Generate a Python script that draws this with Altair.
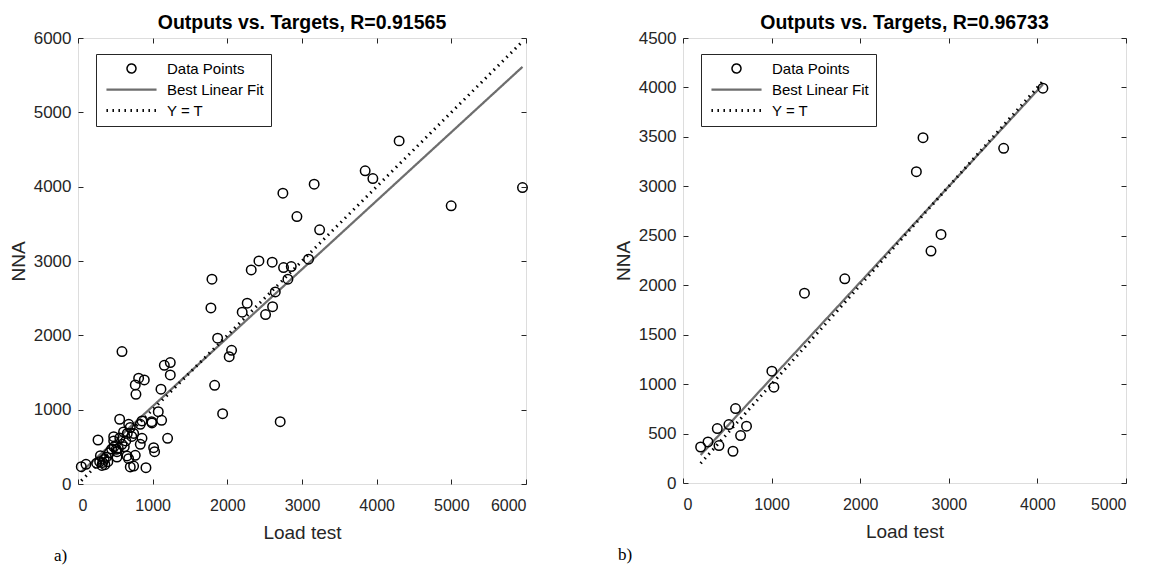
import altair as alt
import pandas as pd

# ---------------- data ----------------
a_target = [4301, 3846, 3949, 3163, 2932, 3236, 3088, 4998, 5953, 2744,
            2423, 2601, 2320, 2753, 2856, 2811, 1794, 2642, 2266, 2199,
            2606, 2512, 1780, 1870, 2057, 2025, 589, 1156, 1236, 1236,
            888, 812, 767, 776, 1111, 1830, 1937, 2708, 1075, 986,
            1120, 1200, 990, 558, 268, 478, 679, 834, 857, 745,
            857, 834, 1013, 1026, 767, 656, 678, 700, 745, 910,
            522, 513, 522, 589, 478, 44, 107, 250, 290, 320,
            350, 380, 300, 420, 450, 400, 560, 610, 640, 700,
            720, 540, 330, 360, 480, 620, 660]
a_output = [4616, 4213, 4109, 4034, 3598, 3419, 3024, 3742, 3988, 3912,
            3001, 2984, 2880, 2911, 2925, 2755, 2755, 2584, 2432, 2311,
            2386, 2279, 2369, 1961, 1799, 1713, 1781, 1597, 1633, 1467,
            1400, 1423, 1332, 1207, 1275, 1328, 946, 838, 973, 838,
            857, 615, 821, 871, 592, 637, 803, 803, 848, 680,
            615, 534, 489, 435, 386, 377, 341, 229, 242, 219,
            363, 467, 435, 534, 579, 233, 265, 280, 300, 250,
            330, 360, 380, 420, 470, 300, 620, 700, 580, 760,
            640, 480, 290, 260, 500, 500, 680]
a_fit = [0.922, 123]          # slope, intercept of best linear fit

b_target = [199, 282, 387, 406, 518, 564, 593, 650, 717, 1003,
            1026, 1371, 1826, 2634, 2709, 2799, 2912, 3619, 4062]
b_output = [364, 415, 551, 379, 591, 321, 753, 480, 574, 1131,
            969, 1920, 2065, 3148, 3492, 2345, 2514, 3385, 3992]
b_fit = [0.97, 90]

series_names = ["Data Points", "Best Linear Fit", "Y = T"]
a_xticks = [0, 1000, 2000, 3000, 4000, 5000, 6000]
a_yticks = [0, 1000, 2000, 3000, 4000, 5000, 6000]
b_xticks = [0, 1000, 2000, 3000, 4000, 5000]
b_yticks = [0, 500, 1000, 1500, 2000, 2500, 3000, 3500, 4000, 4500]
titles = ["Outputs vs. Targets, R=0.91565", "Outputs vs. Targets, R=0.96733"]
panel_tags = ["a)", "b)"]
x_title = "Load test"
y_title = "NNA"

FONT = "Liberation Sans"
AX = "#262626"
CHANNELS = ["stroke", "shape", "strokeDash", "strokeWidth"]


def make_panel(target, output, fit, xticks, yticks, title, tag, tag_dx, w, h):
    pts = pd.DataFrame({"T": target, "O": output, "series": series_names[0]})
    t0, t1 = min(target), max(target)
    lines = pd.DataFrame({
        "T": [t0, t1, t0, t1],
        "O": [fit[0] * t0 + fit[1], fit[0] * t1 + fit[1], t0, t1],
        "series": [series_names[1]] * 2 + [series_names[2]] * 2,
    })
    xs = alt.Scale(domain=[xticks[0], xticks[-1]], nice=False, zero=False)
    ys = alt.Scale(domain=[yticks[0], yticks[-1]], nice=False, zero=False)

    legend = alt.Legend(title=None, orient="none", legendX=18, legendY=16,
                        strokeColor=AX, fillColor="white", padding=7,
                        labelFont=FONT, labelFontSize=15, labelColor="black",
                        symbolSize=80, symbolOffset=21, labelOffset=28,
                        rowPadding=5, cornerRadius=0)
    stroke = alt.Stroke("series:N", legend=legend,
                        scale=alt.Scale(domain=series_names,
                                        range=["black", "#6e6e6e", "black"]))
    shape = alt.Shape("series:N", legend=legend,
                      scale=alt.Scale(domain=series_names,
                                      range=["circle", "M-5.6,0H5.6", "M-5.6,0H5.6"]))
    dash = alt.StrokeDash("series:N", legend=legend,
                          scale=alt.Scale(domain=series_names,
                                          range=[[1, 0], [1, 0], [1.5, 4.5]]))
    sw = alt.StrokeWidth("series:N", legend=legend,
                         scale=alt.Scale(domain=series_names,
                                         range=[1.5, 3, 1.5]))

    tick_style = dict(tickColor=AX, domain=False, grid=False, offset=-5, tickSize=5)
    text_style = dict(labelColor=AX, titleColor=AX, labelFont=FONT,
                      titleFont=FONT, titleFontWeight="normal")
    bottom_axis = alt.Axis(values=xticks, format="d", title=x_title,
                           orient="bottom", labelPadding=13, titlePadding=10,
                           labelFontSize=16, titleFontSize=19,
                           **tick_style, **text_style)
    left_axis = alt.Axis(values=yticks, format="d", title=y_title,
                         orient="left", labelPadding=7, titlePadding=5,
                         labelFontSize=17, titleFontSize=19,
                         **tick_style, **text_style)
    top_axis = alt.Axis(values=xticks, orient="top", labels=False, title=None,
                        **tick_style)
    right_axis = alt.Axis(values=yticks, orient="right", labels=False, title=None,
                          **tick_style)

    points = alt.Chart(pts).mark_point(filled=False, size=90, opacity=1).encode(
        x=alt.X("T:Q", scale=xs, axis=bottom_axis),
        y=alt.Y("O:Q", scale=ys, axis=left_axis),
        stroke=stroke, shape=shape, strokeWidth=sw,
    )
    fitlines = alt.Chart(lines).mark_line().encode(
        x=alt.X("T:Q", scale=xs, axis=None),
        y=alt.Y("O:Q", scale=ys, axis=None),
        stroke=stroke, strokeDash=dash, strokeWidth=sw,
    )
    frame = alt.Chart(lines).mark_line(opacity=0).encode(
        x=alt.X("T:Q", scale=xs, axis=top_axis),
        y=alt.Y("O:Q", scale=ys, axis=right_axis),
    )
    tag_text = alt.Chart(alt.Data(values=[{"t": tag}])).mark_text(
        font="Liberation Serif", fontSize=17, align="left", baseline="middle",
        color="black").encode(text="t:N", x=alt.value(tag_dx), y=alt.value(h + 72))

    return alt.layer(fitlines, points, frame, tag_text).resolve_axis(
        x="independent", y="independent").properties(
        width=w, height=h,
        title=alt.TitleParams(text=title, font=FONT, fontSize=19.5,
                              fontWeight="bold", color="black", offset=-4,
                              anchor="middle"))


pa = make_panel(a_target, a_output, a_fit, a_xticks, a_yticks, titles[0],
                panel_tags[0], -24, 448, 446)
pb = make_panel(b_target, b_output, b_fit, b_xticks, b_yticks, titles[1],
                panel_tags[1], -65, 443, 445)

chart = alt.hconcat(pa, pb, spacing=82).resolve_scale(
    **{c: "independent" for c in CHANNELS}
).resolve_legend(
    **{c: "independent" for c in CHANNELS}
).properties(
    padding={"left": 0, "top": 4, "right": 5, "bottom": 5}
).configure_view(stroke=AX, strokeWidth=1).configure(font=FONT)

chart.save("out.html", embed_options={"renderer": "svg", "actions": False})
